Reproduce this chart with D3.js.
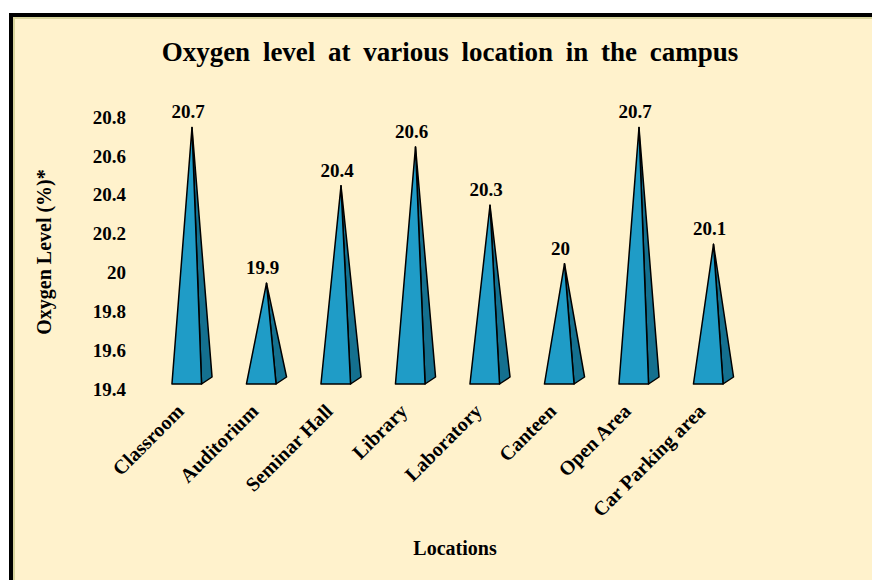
<!DOCTYPE html>
<html>
<head>
<meta charset="utf-8">
<script src="https://cdn.jsdelivr.net/npm/d3@7"></script>
<style>
  body { margin: 0; background: #fff; }
  text { font-family: "Liberation Serif", "Times New Roman", serif; font-weight: bold; fill: #000; }
</style>
</head>
<body>
<div id="chart"></div>
<script>
// chart data
var locations = ["Classroom", "Auditorium", "Seminar Hall", "Library", "Laboratory", "Canteen", "Open Area", "Car Parking area"];
var oxygen = [20.7, 19.9, 20.4, 20.6, 20.3, 20.0, 20.7, 20.1];
var yTicks = [19.4, 19.6, 19.8, 20.0, 20.2, 20.4, 20.6, 20.8];

var svgWidth = 872;
var svgHeight = 580;

var svg = d3.select("#chart")
  .append("svg")
  .attr("width", svgWidth)
  .attr("height", svgHeight);

// frame
svg.append("rect")
  .attr("x", 11).attr("y", 15)
  .attr("width", 900).attr("height", 600)
  .attr("fill", "#fff2cc")
  .attr("stroke", "#000")
  .attr("stroke-width", 4);
svg.append("path")
  .attr("d", "M14,600 V18 H900")
  .attr("fill", "none")
  .attr("stroke", "#d8d49c")
  .attr("stroke-width", 2);

// scales
var xScale = d3.scalePoint()
  .domain(locations)
  .range([192, 713.5]);

var yScale = d3.scaleLinear()
  .domain([19.4, 20.8])
  .range([380.5, 108]);

// 3d geometry of pyramid base
var halfW = 14.8;
var depthX = 10.5, depthY = -7;

// title
svg.append("text")
  .attr("x", 450)
  .attr("y", 61)
  .attr("text-anchor", "middle")
  .style("font-size", "27px")
  .style("word-spacing", "6px")
  .text("Oxygen level at various location in the campus");

// y axis (labels only)
var yAxis = d3.axisLeft(yScale)
  .tickValues(yTicks)
  .tickSize(0)
  .tickPadding(0)
  .tickFormat(d3.format(".3~g"));

var yAxisG = svg.append("g")
  .attr("transform", "translate(126, 9)")
  .call(yAxis);
yAxisG.select(".domain").remove();
yAxisG.selectAll("text")
  .style("font-size", "19px")
  .style("font-family", "'Liberation Serif', serif")
  .style("font-weight", "bold")
  .attr("fill", "#000");

// y title
svg.append("text")
  .attr("transform", "translate(51, 252) rotate(-90)")
  .attr("text-anchor", "middle")
  .style("font-size", "20px")
  .text("Oxygen Level (%)*");

// pyramids
var floorY = yScale(19.4);
var pyr = svg.selectAll(".pyr")
  .data(locations)
  .enter()
  .append("g")
  .attr("class", "pyr");

pyr.each(function(d, i) {
  var g = d3.select(this);
  var cx = xScale(d);
  var apexY = yScale(oxygen[i]);
  // front base corners
  var fx0 = cx - depthX / 2 - halfW;
  var fx1 = cx - depthX / 2 + halfW;
  var fy = floorY - depthY / 2;
  var bx1 = fx1 + depthX;
  var by = fy + depthY;

  g.append("path")
    .attr("d", `M${cx},${apexY} L${fx1},${fy} L${bx1},${by} Z`)
    .attr("fill", "#14708f")
    .attr("stroke", "#000")
    .attr("stroke-width", 1.5)
    .attr("stroke-linejoin", "round");

  g.append("path")
    .attr("d", `M${cx},${apexY} L${fx0},${fy} L${fx1},${fy} Z`)
    .attr("fill", "#1f9cc7")
    .attr("stroke", "#000")
    .attr("stroke-width", 1.5)
    .attr("stroke-linejoin", "round");
});

// value labels
svg.selectAll(".val")
  .data(oxygen)
  .enter()
  .append("text")
  .attr("class", "val")
  .attr("x", (d, i) => xScale(locations[i]) - 4)
  .attr("y", d => yScale(d) - 9)
  .attr("text-anchor", "middle")
  .style("font-size", "19px")
  .text(d => d3.format(".3~g")(d));

// x labels
svg.selectAll(".xlab")
  .data(locations)
  .enter()
  .append("text")
  .attr("class", "xlab")
  .attr("transform", d => `translate(${xScale(d) - 7}, ${floorY + 32}) rotate(-45)`)
  .attr("text-anchor", "end")
  .style("font-size", "20px")
  .text(d => d);

// x title
svg.append("text")
  .attr("x", 455)
  .attr("y", 555)
  .attr("text-anchor", "middle")
  .style("font-size", "20px")
  .text("Locations");
</script>
</body>
</html>
